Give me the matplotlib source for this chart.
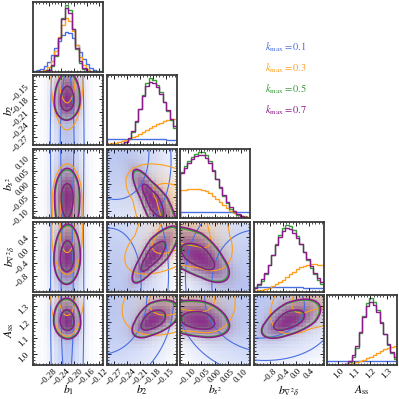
import numpy as np
import matplotlib
matplotlib.use("Agg")
import matplotlib.pyplot as plt
import matplotlib.ticker as mticker
from matplotlib.colors import LinearSegmentedColormap, to_rgb

plt.rcParams.update({
    "font.family": "serif",
    "font.serif": ["Liberation Serif", "DejaVu Serif"],
    "mathtext.fontset": "stix",
    "font.size": 6.5,
    "axes.linewidth": 1.3,
    "axes.edgecolor": "#3a3a3a",
    "xtick.direction": "in",
    "ytick.direction": "in",
    "xtick.top": True,
    "ytick.right": True,
    "xtick.major.size": 3,
    "ytick.major.size": 3,
    "xtick.minor.size": 1.5,
    "ytick.minor.size": 1.5,
    "xtick.major.width": 0.6,
    "ytick.major.width": 0.6,
    "xtick.minor.width": 0.5,
    "ytick.minor.width": 0.5,
    "xtick.major.pad": 1.5,
    "ytick.major.pad": 1.5,
})

# parameters
labels = [r"$b_1$", r"$b_2$", r"$b_{s^2}$", r"$b_{\nabla^2\delta}$", r"$A_{\rm ss}$"]
ranges = [(-0.33, -0.108), (-0.288, -0.125), (-0.13, 0.134), (-1.3, 0.85), (0.93, 1.365)]
ticks = [
    [-0.28, -0.24, -0.20, -0.16, -0.12],
    [-0.27, -0.24, -0.21, -0.18, -0.15],
    [-0.10, -0.05, 0.00, 0.05, 0.10],
    [-0.8, -0.4, 0.0, 0.4],
    [1.0, 1.1, 1.2, 1.3],
]
tick_labels = [
    ["\u22120.28", "\u22120.24", "\u22120.20", "\u22120.16", "\u22120.12"],
    ["\u22120.27", "\u22120.24", "\u22120.21", "\u22120.18", "\u22120.15"],
    ["\u22120.10", "\u22120.05", "0.00", "0.05", "0.10"],
    ["\u22120.8", "\u22120.4", "0.0", "0.4"],
    ["1.0", "1.1", "1.2", "1.3"],
]

kmax = [0.1, 0.3, 0.5, 0.7]
colors = ["#4a6fe3", "#ff9f1c", "#3a9a3a", "#8b1a8b"]
shade_alpha = [0.38, 0.3, 0.5, 0.85]

# posterior summaries (split normal: mean, lower / upper width)
mean_k01 = [-0.222, -0.30, 0.20, -1.5, 1.35]
siglo_k01 = [0.035, 0.30, 0.70, 7.0, 1.0]
sighi_k01 = [0.035, 0.30, 0.70, 7.0, 1.0]
mean_k03 = [-0.222, -0.125, -0.06, 0.45, 1.37]
siglo_k03 = [0.026, 0.065, 0.25, 0.65, 0.13]
sighi_k03 = [0.026, 0.080, 0.075, 1.6, 0.30]
mean_k05 = [-0.222, -0.185, -0.05, -0.27, 1.20]
siglo_k05 = [0.021, 0.023, 0.086, 0.40, 0.052]
sighi_k05 = [0.021, 0.034, 0.057, 0.52, 0.071]
mean_k07 = [-0.222, -0.185, -0.05, -0.27, 1.20]
siglo_k07 = [0.022, 0.024, 0.090, 0.42, 0.055]
sighi_k07 = [0.022, 0.036, 0.060, 0.55, 0.075]

# correlations for pairs (0,1) (0,2) (0,3) (0,4) (1,2) (1,3) (1,4) (2,3) (2,4) (3,4)
pairs = [(0, 1), (0, 2), (0, 3), (0, 4), (1, 2), (1, 3), (1, 4), (2, 3), (2, 4), (3, 4)]
rho_k01 = [0.0, 0.0, 0.0, 0.0, -0.3, 0.2, 0.0, -0.2, 0.0, -0.2]
rho_k03 = [0.0, 0.0, 0.0, 0.0, -0.5, 0.6, 0.4, -0.4, -0.2, 0.5]
rho_k05 = [0.05, 0.0, 0.05, -0.05, -0.8, 0.8, 0.5, -0.6, -0.25, 0.55]
rho_k07 = [0.05, 0.0, 0.05, -0.05, -0.8, 0.8, 0.5, -0.6, -0.25, 0.55]

means = [mean_k01, mean_k03, mean_k05, mean_k07]
siglo = [siglo_k01, siglo_k03, siglo_k05, siglo_k07]
sighi = [sighi_k01, sighi_k03, sighi_k05, sighi_k07]
rhos = [rho_k01, rho_k03, rho_k05, rho_k07]

levels_frac = [0.393, 0.865]
nbins = 20
ndim = len(labels)


def stdize(x, m, sl, sh):
    return np.where(x < m, (x - m) / sl, (x - m) / sh)


def pdf1d(x, k, p):
    sl, sh = siglo[k][p], sighi[k][p]
    u = stdize(x, means[k][p], sl, sh)
    return 2.0 / (np.sqrt(2 * np.pi) * (sl + sh)) * np.exp(-0.5 * u ** 2)


def dens2d(X, Y, k, px, py):
    r = rhos[k][pairs.index((min(px, py), max(px, py)))]
    U = stdize(X, means[k][px], siglo[k][px], sighi[k][px])
    V = stdize(Y, means[k][py], siglo[k][py], sighi[k][py])
    return np.exp(-0.5 * (U ** 2 - 2 * r * U * V + V ** 2) / (1 - r ** 2))


def mass_levels(H):
    Hf = np.sort(H.ravel())[::-1]
    cs = np.cumsum(Hf)
    cs /= cs[-1]
    out = []
    for f in levels_frac:
        out.append(Hf[np.argmin(np.abs(cs - f))])
    return sorted(out)


fig, axes = plt.subplots(ndim, ndim, figsize=(3.99, 3.99))
fig.subplots_adjust(left=0.083, right=0.995, bottom=0.085, top=0.995,
                    wspace=0.05, hspace=0.05)

for i in range(ndim):
    for j in range(ndim):
        ax = axes[i, j]
        if j > i:
            ax.set_axis_off()
            continue
        lo_x, hi_x = ranges[j]
        edges_x = np.linspace(lo_x, hi_x, nbins + 1)
        cx = 0.5 * (edges_x[1:] + edges_x[:-1])
        if i == j:
            top = 0
            for k in range(len(kmax)):
                vals = pdf1d(cx, k, j)
                ax.stairs(vals, edges_x, color=colors[k], lw=1.0)
                top = vals.max()
            ax.set_ylim(0, 1.1 * top)
            ax.set_yticks([])
        else:
            lo_y, hi_y = ranges[i]
            edges_y = np.linspace(lo_y, hi_y, nbins + 1)
            cy = 0.5 * (edges_y[1:] + edges_y[:-1])
            CX, CY = np.meshgrid(cx, cy)
            fx = np.linspace(lo_x, hi_x, 120)
            fy = np.linspace(lo_y, hi_y, 120)
            FX, FY = np.meshgrid(fx, fy)
            for k in range(len(kmax)):
                rgb = to_rgb(colors[k])
                cmap = LinearSegmentedColormap.from_list(
                    "d%d" % k, [rgb + (0.0,), rgb + (shade_alpha[k],)])
                H = dens2d(CX, CY, k, j, i)
                ax.pcolormesh(edges_x, edges_y, H, cmap=cmap,
                              vmin=H.min(), vmax=H.max(), shading="flat")
                F = dens2d(FX, FY, k, j, i)
                lev = mass_levels(F)
                lw = 0.8 if k < 2 else 1.1
                ax.contour(FX, FY, F, levels=lev, colors=[colors[k]], linewidths=lw)
            ax.set_ylim(lo_y, hi_y)
            ax.set_yticks(ticks[i])
            ax.yaxis.set_minor_locator(mticker.AutoMinorLocator())
            if j == 0:
                ax.set_yticklabels(tick_labels[i], rotation=45)
                ax.set_ylabel(labels[i], fontsize=8.5)
                ax.yaxis.set_label_coords(-0.25, 0.5)
            else:
                ax.set_yticklabels([])
        ax.set_xlim(lo_x, hi_x)
        ax.set_xticks(ticks[j])
        ax.xaxis.set_minor_locator(mticker.AutoMinorLocator())
        if i == ndim - 1:
            ax.set_xticklabels(tick_labels[j], rotation=45)
            ax.set_xlabel(labels[j], fontsize=8.5)
            ax.xaxis.set_label_coords(0.5, -0.27)
        else:
            ax.set_xticklabels([])

for k in range(len(kmax)):
    fig.text(0.664, 0.882 - 0.053 * k, r"$k_{\rm max}=%.1f$" % kmax[k],
             color=colors[k], fontsize=7.5, va="center", ha="left")

fig.savefig("out.png", dpi=100)
